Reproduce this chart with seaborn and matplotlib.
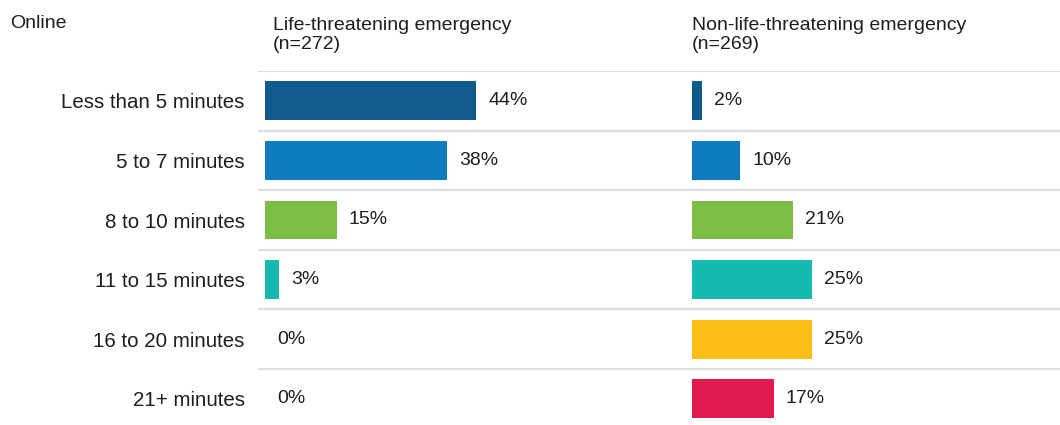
import matplotlib
matplotlib.use("Agg")
import matplotlib.pyplot as plt
import seaborn as sns

categories = ["Less than 5 minutes", "5 to 7 minutes", "8 to 10 minutes",
              "11 to 15 minutes", "16 to 20 minutes", "21+ minutes"]
life_threatening = [44, 38, 15, 3, 0, 0]
non_life_threatening = [2, 10, 21, 25, 25, 17]
colors = ["#105a8e", "#0e7cbf", "#7cbf44", "#17b9ae", "#fbbf15", "#e0194e"]
title_left = ["Life-threatening emergency", "(n=272)"]
title_right = ["Non-life-threatening emergency", "(n=269)"]
corner_label = "Online"

sns.set_theme(style="white")
plt.rcParams["font.family"] = ["Liberation Sans", "DejaVu Sans"]

W, H = 1060, 425
fig = plt.figure(figsize=(W / 100, H / 100), dpi=100)

px_per_unit = 4.8      # pixels per percentage point
row_px = 59.6
top_px = 71
zero_pad_px = 7
text_color = "#1e1e1e"
fs = 14

def make_ax(left_px, right_px):
    ax = fig.add_axes([left_px / W, 0, (right_px - left_px) / W, 1 - top_px / H])
    x0 = -zero_pad_px / px_per_unit
    ax.set_xlim(x0, x0 + (right_px - left_px) / px_per_unit)
    return ax

ax1 = make_ax(258, 685)
ax2 = make_ax(685, 1060)

for ax, vals in [(ax1, life_threatening), (ax2, non_life_threatening)]:
    sns.barplot(x=vals, y=categories, hue=categories, palette=colors,
                legend=False, orient="h", width=0.65, ax=ax, saturation=1,
                linewidth=0)
    ax.set_ylim(-0.5 + (H - top_px) / row_px, -0.5)
    for i in range(len(categories)):
        ax.axhline(i - 0.5, color="#dedede", lw=1.6, zorder=0)
    for i, v in enumerate(vals):
        ax.text(v + 12 / px_per_unit, i, f"{v}%", va="center", ha="left",
                fontsize=fs, color=text_color)
    for s in ax.spines.values():
        s.set_visible(False)
    ax.set_xticks([])
    ax.set_xlabel("")
    ax.set_ylabel("")

ax1.tick_params(axis="y", length=0, pad=9.5, labelsize=14.8, labelcolor=text_color)
ax2.set_yticks([])

fig.text(10 / W, 1 - 28 / H, corner_label, fontsize=fs, color=text_color, va="baseline")
for x_px, lines in [(273, title_left), (692, title_right)]:
    fig.text(x_px / W, 1 - 30 / H, lines[0], fontsize=fs, color=text_color, va="baseline")
    fig.text(x_px / W, 1 - 49 / H, lines[1], fontsize=fs, color=text_color, va="baseline")

fig.savefig("out.png", dpi=100, facecolor="white")
